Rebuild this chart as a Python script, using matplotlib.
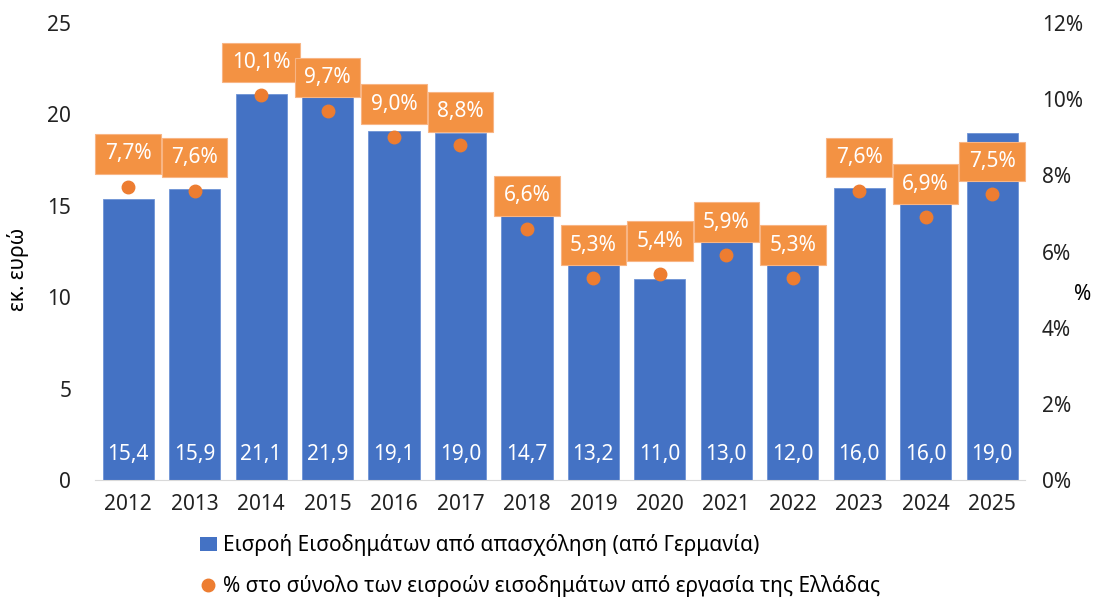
import numpy as np
import matplotlib.pyplot as plt
from matplotlib.lines import Line2D
from matplotlib.patches import Patch

years = ['2012', '2013', '2014', '2015', '2016', '2017', '2018',
         '2019', '2020', '2021', '2022', '2023', '2024', '2025']
income = [15.4, 15.9, 21.1, 21.9, 19.1, 19.0, 14.7,
          13.2, 11.0, 13.0, 12.0, 16.0, 16.0, 19.0]
share = [7.7, 7.6, 10.1, 9.7, 9.0, 8.8, 6.6,
         5.3, 5.4, 5.9, 5.3, 7.6, 6.9, 7.5]

bar_label = 'Εισροή Εισοδημάτων από απασχόληση (από Γερμανία)'
dot_label = '% στο σύνολο των εισροών εισοδημάτων από εργασία της Ελλάδας'

blue = '#4472C4'
orange = '#ED7D31'
fs = 15

plt.rcParams['font.family'] = ['Noto Sans', 'DejaVu Sans']
plt.rcParams['font.size'] = fs

fig = plt.figure(figsize=(10.99, 6.01), dpi=100)
ax = fig.add_axes([0.0864, 0.2013, 0.8466, 0.7604])
ax2 = ax.twinx()

x = np.arange(len(years))
ax.bar(x, income, width=0.77, color=blue, edgecolor='#6E93D6', linewidth=0.6, zorder=2)
ax.set_xlim(-0.5, len(years) - 0.5)
ax.set_ylim(0, 25)
ax.set_yticks(range(0, 26, 5))
ax.set_xticks(x)
ax.set_xticklabels(years)
ax.tick_params(length=0, labelsize=fs, colors='#222222')
ax.tick_params(axis='x', pad=10)
ax.tick_params(axis='y', pad=17)
for s in ['top', 'right', 'left']:
    ax.spines[s].set_visible(False)
ax.spines['bottom'].set_color('#D9D9D9')
ax.set_ylabel('εκ. ευρώ', fontsize=fs, va='center')
ax.yaxis.set_label_coords(-0.083, 0.46)

for xi, v in zip(x, income):
    ax.text(xi, 1.4, f'{v:.1f}'.replace('.', ','), ha='center', va='center',
            color='white', fontsize=fs, zorder=3)

ax2.set_ylim(0, 12)
ax2.set_yticks(range(0, 13, 2))
ax2.set_yticklabels([f'{t}%' for t in range(0, 13, 2)])
ax2.tick_params(length=0, labelsize=fs, colors='#222222', pad=12)
for s in ['top', 'right', 'left', 'bottom']:
    ax2.spines[s].set_visible(False)
ax2.set_ylabel('%', rotation=0, fontsize=fs, va='center', ha='center')
ax2.yaxis.set_label_coords(1.062, 0.405)

ax2.plot(x, share, 'o', color=orange, markersize=9, zorder=4)
for xi, v in zip(x, share):
    ax2.annotate(f'{v:.1f}%'.replace('.', ','), (xi, v), xytext=(0, 33),
                 textcoords='offset pixels',
                 ha='center', va='center', color='white', fontsize=fs,
                 bbox=dict(boxstyle='square,pad=0.45', facecolor='#F39243',
                           edgecolor='#F8B584', linewidth=0.8),
                 zorder=5)

h1 = [Patch(facecolor=blue)]
h2 = [Line2D([], [], marker='o', color=orange, linestyle='none', markersize=9)]
kw = dict(frameon=False, fontsize=fs, handlelength=0.8, handletextpad=0.3,
          borderpad=0, borderaxespad=0, loc='center left')
fig.legend(h1, [bar_label], bbox_to_anchor=(0.182, 0.093), **kw)
fig.legend(h2, [dot_label], bbox_to_anchor=(0.182, 0.025), **kw)

fig.savefig('out.png', dpi=100)
